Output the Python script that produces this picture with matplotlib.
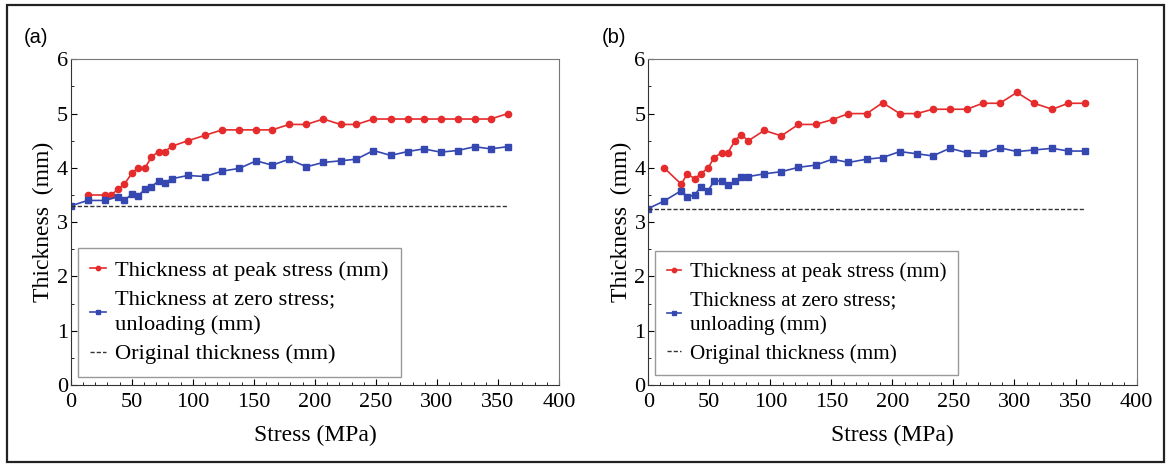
import numpy as np
import matplotlib
matplotlib.use('Agg')
import matplotlib.pyplot as plt
from matplotlib.patches import Rectangle
from matplotlib.ticker import MultipleLocator

# panel (a)
a_peak_x = [14, 28, 33, 39, 44, 50, 55, 61, 66, 72, 77, 83, 96, 110, 124, 138, 152, 165,
            179, 193, 207, 221, 234, 248, 262, 276, 289, 303, 317, 331, 344, 358]
a_peak_y = [3.5, 3.5, 3.5, 3.61, 3.7, 3.9, 4.0, 4.0, 4.2, 4.3, 4.3, 4.4, 4.5, 4.6, 4.7, 4.7, 4.7, 4.7,
            4.8, 4.8, 4.9, 4.8, 4.8, 4.9, 4.9, 4.9, 4.9, 4.9, 4.9, 4.9, 4.9, 5.0]
a_zero_x = [0, 14, 28, 39, 44, 50, 55, 61, 66, 72, 77, 83, 96, 110, 124, 138, 152, 165,
            179, 193, 207, 221, 234, 248, 262, 276, 289, 303, 317, 331, 344, 358]
a_zero_y = [3.3, 3.4, 3.4, 3.47, 3.41, 3.51, 3.48, 3.61, 3.65, 3.76, 3.73, 3.8, 3.86, 3.84, 3.94, 3.99, 4.13, 4.05,
            4.16, 4.02, 4.1, 4.13, 4.16, 4.32, 4.23, 4.3, 4.35, 4.29, 4.32, 4.39, 4.35, 4.39]
a_orig = 3.29

# panel (b)
b_peak_x = [13, 27, 32, 38, 43, 49, 54, 60, 65, 71, 76, 82, 95, 109, 123, 137, 151, 164,
            179, 192, 206, 220, 233, 247, 261, 274, 288, 302, 316, 331, 344, 358]
b_peak_y = [4.0, 3.7, 3.89, 3.8, 3.89, 4.0, 4.19, 4.28, 4.27, 4.5, 4.61, 4.5, 4.69, 4.59, 4.8, 4.8, 4.89, 5.0,
            5.0, 5.2, 5.0, 5.0, 5.08, 5.08, 5.08, 5.19, 5.19, 5.39, 5.19, 5.08, 5.19, 5.19]
b_zero_x = [0, 13, 27, 32, 38, 43, 49, 54, 60, 65, 71, 76, 82, 95, 109, 123, 137, 151, 164,
            179, 192, 206, 220, 233, 247, 261, 274, 288, 302, 316, 331, 344, 358]
b_zero_y = [3.25, 3.39, 3.58, 3.47, 3.5, 3.65, 3.58, 3.76, 3.76, 3.68, 3.75, 3.84, 3.84, 3.89, 3.93, 4.01, 4.05, 4.16, 4.1,
            4.16, 4.19, 4.3, 4.26, 4.22, 4.36, 4.28, 4.27, 4.37, 4.3, 4.33, 4.36, 4.31, 4.31]
b_orig = 3.24

orig_x = [0, 357]

red = '#e52b2b'
blue = '#3547b0'

plt.rcParams['font.family'] = ['Liberation Serif', 'DejaVu Serif']

fig = plt.figure(figsize=(11.71, 4.67), dpi=100)
fig.patches.append(Rectangle((7/1171, 5/467), 1157/1171, 457/467, transform=fig.transFigure,
                             fill=False, edgecolor='#222222', linewidth=1.6))

panels = [
  ('(a)', [0.0604, 0.1756, 0.417, 0.6974], a_peak_x, a_peak_y, a_zero_x, a_zero_y, a_orig, (0.015, 0.025), 16.2),
  ('(b)', [0.5536, 0.1756, 0.417, 0.6974], b_peak_x, b_peak_y, b_zero_x, b_zero_y, b_orig, (0.014, 0.03), 15.2),
]

for tag, box, px, py, zx, zy, orig, lpos, lfs in panels:
  ax = fig.add_axes(box)
  ax.plot(px, py, '-o', color=red, markersize=4.5, linewidth=1.2, label='Thickness at peak stress (mm)')
  ax.plot(zx, zy, '-s', color=blue, markersize=4, linewidth=1.2, label='Thickness at zero stress;\nunloading (mm)')
  ax.plot(orig_x, [orig, orig], '--', color='#333333', linewidth=1.0, dashes=(3, 1.5), label='Original thickness (mm)')
  ax.set_xlim(0, 400)
  ax.set_ylim(0, 6)
  ax.xaxis.set_major_locator(MultipleLocator(50))
  ax.xaxis.set_minor_locator(MultipleLocator(10))
  ax.yaxis.set_major_locator(MultipleLocator(1))
  ax.yaxis.set_minor_locator(MultipleLocator(0.5))
  ax.tick_params(which='both', direction='in', labelsize=16)
  ax.tick_params(axis='x', pad=6)
  ax.tick_params(axis='y', pad=2)
  ax.tick_params(which='major', length=4)
  ax.tick_params(which='minor', length=2.5)
  for s in ['top', 'right']:
    ax.spines[s].set_color('#777777')
  for s in ['left', 'bottom']:
    ax.spines[s].set_color('#333333')
  ax.set_xlabel('Stress (MPa)', fontsize=17, labelpad=9)
  ax.set_ylabel('Thickness  (mm)', fontsize=17, labelpad=2)
  leg = ax.legend(loc='lower left', bbox_to_anchor=lpos, borderaxespad=0, fontsize=lfs,
                  handlelength=0.7, handletextpad=0.4, labelspacing=0.4, markerscale=0.7,
                  borderpad=0.55, fancybox=False, framealpha=1, edgecolor='#999999')
  leg.get_texts()[1].set_linespacing(1.4)
  fig.text(box[0] - 0.04, 0.9, tag, family='Liberation Sans', fontsize=14.5, va='bottom')

fig.savefig('out.png', dpi=100)
